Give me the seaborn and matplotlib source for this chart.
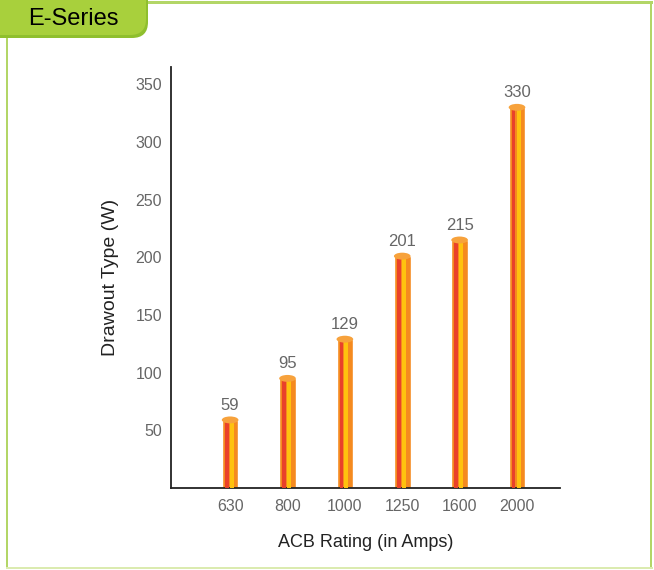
import numpy as np
import pandas as pd
import matplotlib
matplotlib.use("Agg")
import matplotlib.pyplot as plt
import seaborn as sns
from matplotlib.patches import Ellipse, FancyBboxPatch, Rectangle

# data
ratings = ["630", "800", "1000", "1250", "1600", "2000"]
watts = [59, 95, 129, 201, 215, 330]
y_ticks = [50, 100, 150, 200, 250, 300, 350]

df = pd.DataFrame({"rating": ratings, "watts": watts})

sns.set_style("white")
plt.rcParams["font.family"] = ["Liberation Sans", "DejaVu Sans"]

fig = plt.figure(figsize=(6.54, 5.70), dpi=100)

# background frame + tab, drawn in pixel units
bg = fig.add_axes([0, 0, 1, 1], zorder=0)
bg.set_xlim(0, 654)
bg.set_ylim(570, 0)
bg.axis("off")
bg.add_patch(Rectangle((5.5, 1), 2.5, 568, color="#b3d667", lw=0))
bg.add_patch(Rectangle((5.5, 1), 647, 2.5, color="#b3d667", lw=0))
bg.add_patch(Rectangle((649.5, 1), 2.5, 568, color="#b3d667", lw=0))
bg.add_patch(Rectangle((5.5, 566.5), 647, 2.5, color="#dbebb0", lw=0))
bg.add_patch(FancyBboxPatch((-30, -30), 178, 68,
                            boxstyle="round,pad=0,rounding_size=16",
                            color="#8fbf2e", lw=0))
bg.add_patch(FancyBboxPatch((-30, -30), 176, 65,
                            boxstyle="round,pad=0,rounding_size=16",
                            color="#a8d03c", lw=0))
bg.text(73, 19, "E-Series", fontsize=17, color="black", ha="center", va="center")

ax = fig.add_axes([0.2615, 0.1439, 0.5948, 0.7386], zorder=1)
ax.set_facecolor("none")

sns.barplot(data=df, x="rating", y="watts", color="#f58a1f", width=0.29,
            saturation=1, ax=ax, zorder=2)

idx = np.arange(len(ratings))
ax.bar(idx - 0.06, watts, width=0.065, color="#e9412a", lw=0, zorder=3)
ax.bar(idx + 0.028, watts, width=0.07, color="#ffc20e", lw=0, zorder=3)

for i, v in enumerate(watts):
    ax.add_patch(Ellipse((i, v), 0.29, 6, color="#f7a23c", lw=0, zorder=4))
    ax.text(i, v + 6, str(v), ha="center", va="bottom", fontsize=12,
            color="#666666")

ax.set_xlim(-1.03, 5.75)
ax.set_ylim(0, 365)
ax.set_yticks(y_ticks)
ax.tick_params(axis="y", direction="inout", length=9, width=1.2,
               labelsize=11.5, labelcolor="#666666", pad=2)
ax.tick_params(axis="x", length=0, labelsize=11.5, labelcolor="#666666", pad=8)
ax.set_xlabel("ACB Rating (in Amps)", fontsize=13, color="#222222", labelpad=14)
ax.set_ylabel("Drawout Type (W)", fontsize=14, color="#222222", labelpad=12)

sns.despine(ax=ax)
for side in ["left", "bottom"]:
    ax.spines[side].set_color("#222222")
    ax.spines[side].set_linewidth(1.3)

fig.savefig("out.png", dpi=100)
